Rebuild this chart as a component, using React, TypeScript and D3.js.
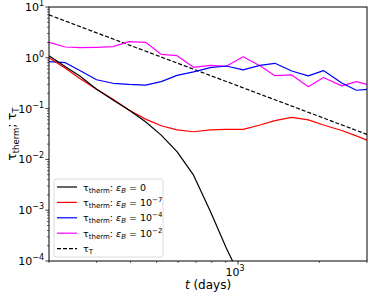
import React from 'react';
import * as d3 from 'd3';

// time grid (days) shared by the simulated series
const tDays = [200, 230, 260, 300, 345, 395, 455, 520, 595, 685, 790, 905, 1045, 1205, 1370, 1580, 1820, 2070, 2420, 2740, 3000];

const tauEps0 = [1.10, 0.67, 0.44, 0.24, 0.148, 0.094, 0.055, 0.030, 0.0142, 0.0049, 0.00095, 0.00018, 0.000037];
const tauEps7 = [1.0, 0.62, 0.39, 0.24, 0.152, 0.094, 0.062, 0.046, 0.038, 0.035, 0.038, 0.039, 0.039, 0.0475, 0.058, 0.067, 0.060, 0.0475, 0.037, 0.029, 0.024];
const tauEps4 = [0.84, 0.80, 0.56, 0.37, 0.315, 0.30, 0.29, 0.34, 0.45, 0.53, 0.64, 0.69, 0.58, 0.71, 0.78, 0.55, 0.44, 0.56, 0.32, 0.23, 0.24];
const tauEps2 = [2.02, 1.63, 1.58, 1.61, 1.66, 2.08, 2.02, 1.17, 1.10, 0.65, 0.71, 0.68, 1.05, 0.70, 0.445, 0.46, 0.27, 0.41, 0.28, 0.34, 0.30];

const tauTDays = [200, 300, 500, 1000, 2000, 3000];
const tauT = [7.0, 3.1, 1.12, 0.28, 0.07, 0.031];

const yMajorExp = [-4, -3, -2, -1, 0, 1];
const xMinorTicks = [200, 300, 400, 500, 600, 700, 800, 900, 2000, 3000];

const W = 374, H = 295;
const margin = {left: 49, right: 7, top: 7, bottom: 34};
const font = 'DejaVu Sans, sans-serif';

const sup = (e: number) => (e < 0 ? '\u2212' + Math.abs(e) : String(e));

const App: React.FC = () => {
    const x = d3.scaleLog().domain([200, 3000]).range([margin.left, W - margin.right]);
    const y = d3.scaleLog().domain([1e-4, 10]).range([H - margin.bottom, margin.top]);

    const line = d3.line<[number, number]>()
        .x(d => x(d[0]))
        .y(d => y(d[1]));

    const series = [
        {vals: tauEps2, color: '#ff00ff'},
        {vals: tauEps4, color: '#0000ff'},
        {vals: tauEps7, color: '#ff0000'},
        {vals: tauEps0, color: '#000000'},
    ];

    // minor y ticks 2..9 per decade
    const yMinor: number[] = [];
    for (let e = -4; e < 1; e++) for (let k = 2; k <= 9; k++) yMinor.push(k * Math.pow(10, e));

    const x0 = margin.left, x1 = W - margin.right, y0 = margin.top, y1 = H - margin.bottom;

    const legendItems = [
        {color: '#000', exp: null as number | null, dash: false},
        {color: '#ff0000', exp: -7, dash: false},
        {color: '#0000ff', exp: -4, dash: false},
        {color: '#ff00ff', exp: -2, dash: false},
    ];
    const lx = 54, ly = 179, lrow = 15.4;

    return (
        <svg width={W} height={H} style={{position: 'absolute', left: 0, top: 0}} fontFamily={font}>
            <defs>
                <clipPath id="plot-clip">
                    <rect x={x0} y={y0} width={x1 - x0} height={y1 - y0}/>
                </clipPath>
            </defs>
            <rect width={W} height={H} fill="#fff"/>

            <g clipPath="url(#plot-clip)">
                <path d={line(tauTDays.map((t, i) => [t, tauT[i]]) as [number, number][]) || ''}
                      fill="none" stroke="#000" strokeWidth={1.2} strokeDasharray="4,2"/>
                {series.map((s, i) => (
                    <path key={i}
                          d={line(s.vals.map((v, j) => [tDays[j], v]) as [number, number][]) || ''}
                          fill="none" stroke={s.color} strokeWidth={1.2} strokeLinejoin="round"/>
                ))}
            </g>

            {/* frame */}
            <rect x={x0} y={y0} width={x1 - x0} height={y1 - y0} fill="none" stroke="#000" strokeWidth={1}/>

            {/* y ticks */}
            {yMinor.map((v, i) => (
                <line key={'ym' + i} x1={x0} x2={x0 - 2} y1={y(v)} y2={y(v)} stroke="#000" strokeWidth={0.6}/>
            ))}
            {yMajorExp.map(e => (
                <g key={'y' + e}>
                    <line x1={x0} x2={x0 - 3.5} y1={y(Math.pow(10, e))} y2={y(Math.pow(10, e))} stroke="#000" strokeWidth={0.8}/>
                    <text x={x0 - 5} y={y(Math.pow(10, e)) + 4} textAnchor="end" fontSize={11}>
                        10<tspan dy={-5} fontSize={8}>{sup(e)}</tspan>
                    </text>
                </g>
            ))}

            {/* x ticks */}
            {xMinorTicks.map(v => (
                <line key={'xm' + v} x1={x(v)} x2={x(v)} y1={y1} y2={y1 + 2} stroke="#000" strokeWidth={0.6}/>
            ))}
            <line x1={x(1000)} x2={x(1000)} y1={y1} y2={y1 + 3.5} stroke="#000" strokeWidth={0.8}/>
            <text x={x(1000) - 3} y={y1 + 15} textAnchor="middle" fontSize={11}>
                10<tspan dy={-5} fontSize={8}>3</tspan>
            </text>

            {/* axis labels */}
            <text x={(x0 + x1) / 2} y={H - 6} textAnchor="middle" fontSize={12}>
                <tspan fontStyle="italic">t</tspan> (days)
            </text>
            <text transform={`translate(16,${(y0 + y1) / 2}) rotate(-90)`} textAnchor="middle" fontSize={12}>
                τ<tspan dy={3} fontSize={8.5}>therm</tspan><tspan dy={-3}>; τ</tspan><tspan dy={3} fontSize={8.5}>T</tspan>
            </text>

            {/* legend */}
            <rect x={lx} y={ly} width={109} height={78} rx={2.5} fill="#fff" fillOpacity={0.8} stroke="#d0d0d0" strokeWidth={0.8}/>
            {legendItems.map((it, i) => {
                const yy = ly + 8 + i * lrow;
                return (
                    <g key={'lg' + i}>
                        <line x1={lx + 3} x2={lx + 23} y1={yy} y2={yy} stroke={it.color} strokeWidth={1.2}/>
                        <text x={lx + 29} y={yy + 3.5} fontSize={9.5}>
                            τ<tspan dy={2} fontSize={7}>therm</tspan>
                            <tspan dy={-2}>: </tspan>
                            <tspan fontStyle="italic">ε</tspan>
                            <tspan dy={2} fontSize={7} fontStyle="italic">B</tspan>
                            <tspan dy={-2}> = {it.exp === null ? '0' : '10'}</tspan>
                            {it.exp !== null && <tspan dy={-4} fontSize={7}>{sup(it.exp)}</tspan>}
                        </text>
                    </g>
                );
            })}
            <line x1={lx + 3} x2={lx + 23} y1={ly + 8 + 4 * lrow} y2={ly + 8 + 4 * lrow} stroke="#000" strokeWidth={1.2} strokeDasharray="4,2"/>
            <text x={lx + 29} y={ly + 8 + 4 * lrow + 3.5} fontSize={9.5}>
                τ<tspan dy={2} fontSize={7}>T</tspan>
            </text>
        </svg>
    );
};

export default App;
